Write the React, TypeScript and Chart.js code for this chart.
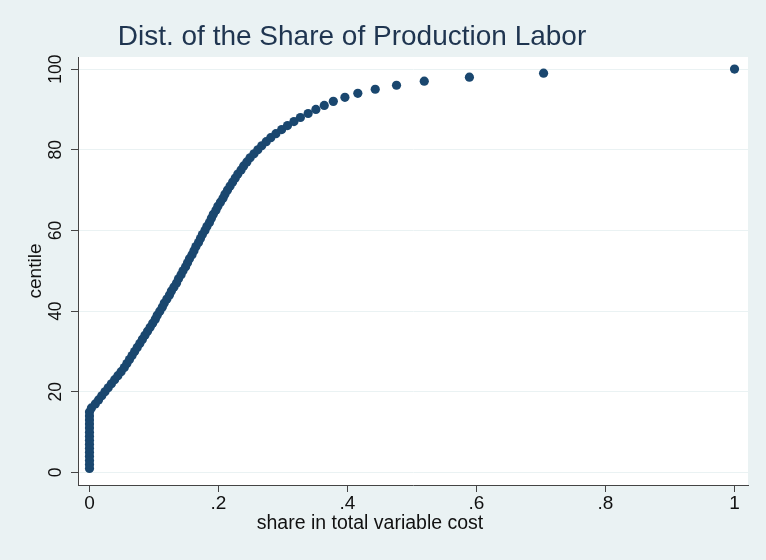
import React, { useEffect, useRef } from 'react';
import { Chart, registerables } from 'chart.js';

Chart.register(...registerables);

const titleText = 'Dist. of the Share of Production Labor';
const xAxisTitle = 'share in total variable cost';
const yAxisTitle = 'centile';

const centiles = [
  1, 2, 3, 4, 5, 6, 7, 8, 9, 10,
  11, 12, 13, 14, 15, 16, 17, 18, 19, 20,
  21, 22, 23, 24, 25, 26, 27, 28, 29, 30,
  31, 32, 33, 34, 35, 36, 37, 38, 39, 40,
  41, 42, 43, 44, 45, 46, 47, 48, 49, 50,
  51, 52, 53, 54, 55, 56, 57, 58, 59, 60,
  61, 62, 63, 64, 65, 66, 67, 68, 69, 70,
  71, 72, 73, 74, 75, 76, 77, 78, 79, 80,
  81, 82, 83, 84, 85, 86, 87, 88, 89, 90,
  91, 92, 93, 94, 95, 96, 97, 98, 99, 100,
];

const shares = [
  0, 0, 0, 0, 0, 0, 0, 0, 0, 0,
  0, 0, 0, 0, 0, 0.003, 0.009, 0.014, 0.019, 0.024,
  0.029, 0.034, 0.039, 0.044, 0.049, 0.054, 0.058, 0.062, 0.066, 0.07,
  0.074, 0.078, 0.082, 0.086, 0.09, 0.094, 0.098, 0.102, 0.105, 0.109,
  0.113, 0.116, 0.12, 0.124, 0.127, 0.131, 0.135, 0.138, 0.142, 0.145,
  0.149, 0.152, 0.155, 0.159, 0.162, 0.165, 0.169, 0.172, 0.175, 0.179,
  0.182, 0.186, 0.189, 0.192, 0.196, 0.199, 0.203, 0.207, 0.21, 0.214,
  0.218, 0.222, 0.226, 0.23, 0.235, 0.239, 0.244, 0.249, 0.255, 0.261,
  0.267, 0.274, 0.281, 0.289, 0.298, 0.307, 0.317, 0.327, 0.339, 0.351,
  0.364, 0.378, 0.396, 0.416, 0.443, 0.476, 0.519, 0.589, 0.704, 1.0,
];

const xTickValues = [0, 0.2, 0.4, 0.6, 0.8, 1];
const xTickLabels = ['0', '.2', '.4', '.6', '.8', '1'];
const yTickValues = [0, 20, 40, 60, 80, 100];
const yTickLabels = ['0', '20', '40', '60', '80', '100'];

const FONT = '"Liberation Sans", Arial, sans-serif';
const BG = '#eaf2f3';
const MARKER = '#1a476f';

const backgroundPlugin = {
  id: 'stataBackground',
  beforeDraw(chart: any) {
    const { ctx, chartArea } = chart;
    ctx.save();
    ctx.fillStyle = BG;
    ctx.fillRect(0, 0, chart.width, chart.height);
    ctx.fillStyle = '#ffffff';
    ctx.fillRect(chartArea.left, chartArea.top, chartArea.right - chartArea.left, chartArea.bottom - chartArea.top);
    ctx.restore();
  },
};

const textPlugin = {
  id: 'stataText',
  afterDraw(chart: any) {
    const { ctx } = chart;
    ctx.save();
    ctx.textAlign = 'center';
    ctx.textBaseline = 'middle';
    ctx.fillStyle = '#1f3550';
    ctx.font = `28px ${FONT}`;
    ctx.fillText(titleText, 352, 37);
    ctx.fillStyle = '#111111';
    ctx.font = `19.5px ${FONT}`;
    ctx.fillText(xAxisTitle, 370, 524);
    ctx.restore();
  },
};

export default function App() {
  const canvasRef = useRef<HTMLCanvasElement | null>(null);

  useEffect(() => {
    if (!canvasRef.current) return;
    const points = centiles.map((c, i) => ({ x: shares[i], y: c }));
    const chart = new Chart(canvasRef.current, {
      type: 'scatter',
      data: {
        datasets: [
          {
            data: points,
            backgroundColor: MARKER,
            borderWidth: 0,
            pointRadius: 4.6,
            pointHoverRadius: 4.6,
          },
        ],
      },
      options: {
        animation: false,
        responsive: false,
        events: [],
        layout: { padding: { top: 57, right: 18, left: 0, bottom: 0 } },
        plugins: {
          legend: { display: false },
          tooltip: { enabled: false },
          title: { display: false },
        },
        scales: {
          x: {
            type: 'linear',
            min: -0.0178,
            max: 1.0209,
            afterFit(scale: any) {
              scale.height = 75;
            },
            afterBuildTicks(scale: any) {
              scale.ticks = xTickValues.map((v) => ({ value: v }));
            },
            border: { display: true, color: '#444444', width: 1 },
            grid: {
              drawOnChartArea: false,
              drawTicks: true,
              tickLength: 7,
              tickColor: '#444444',
            },
            ticks: {
              padding: 0,
              color: '#111111',
              font: { family: FONT, size: 19 },
              maxRotation: 0,
              minRotation: 0,
              callback(value: any) {
                const i = xTickValues.findIndex((v) => Math.abs(v - Number(value)) < 1e-9);
                return i >= 0 ? xTickLabels[i] : '';
              },
            },
          },
          y: {
            type: 'linear',
            min: -3.1,
            max: 103,
            afterFit(scale: any) {
              scale.width = 78;
            },
            afterBuildTicks(scale: any) {
              scale.ticks = yTickValues.map((v) => ({ value: v }));
            },
            border: { display: true, color: '#444444', width: 1 },
            grid: {
              drawOnChartArea: true,
              color: BG,
              lineWidth: 1,
              drawTicks: true,
              tickLength: 7,
              tickColor: '#444444',
            },
            title: {
              display: true,
              text: yAxisTitle,
              color: '#111111',
              font: { family: FONT, size: 19 },
              padding: { top: 24, bottom: 0 },
            },
            ticks: {
              padding: 0,
              color: '#111111',
              font: { family: FONT, size: 17.5 },
              minRotation: 90,
              maxRotation: 90,
              crossAlign: 'center',
              callback(value: any) {
                const i = yTickValues.findIndex((v) => Math.abs(v - Number(value)) < 1e-9);
                return i >= 0 ? yTickLabels[i] : '';
              },
            },
          },
        },
      },
      plugins: [backgroundPlugin, textPlugin],
    });
    return () => chart.destroy();
  }, []);

  return (
    <div style={{ position: 'fixed', left: 0, top: 0, width: 766, height: 560, background: BG }}>
      <canvas ref={canvasRef} width={766} height={560} style={{ display: 'block', width: 766, height: 560 }} />
    </div>
  );
}
